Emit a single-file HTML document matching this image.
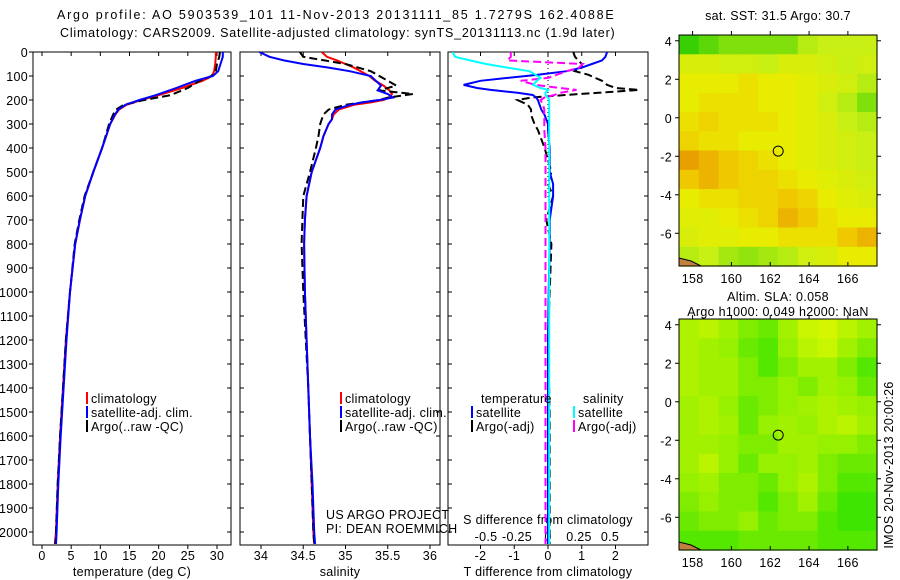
<!DOCTYPE html>
<html><head><meta charset="utf-8"><style>
body{margin:0;background:#fff;}
svg{display:block;font-family:"Liberation Sans",sans-serif;font-size:12.5px;letter-spacing:0.3px;}
</style></head><body>
<svg id="fig" width="900" height="580">
<defs>
<clipPath id="c1"><rect x="33" y="52" width="198" height="493"/></clipPath>
<clipPath id="c2"><rect x="240" y="52" width="200" height="493"/></clipPath>
<clipPath id="c3"><rect x="448" y="52" width="200" height="493"/></clipPath>
</defs>
<text x="57" y="19" textLength="557" lengthAdjust="spacing">Argo profile: AO 5903539_101 11-Nov-2013 20131111_85 1.7279S 162.4088E</text>
<text x="60" y="37" textLength="555" lengthAdjust="spacing">Climatology: CARS2009. Satellite-adjusted climatology: synTS_20131113.nc (1.9d later)</text>
<text x="778" y="20" text-anchor="middle">sat. SST: 31.5 Argo: 30.7</text>
<text x="778" y="301" text-anchor="middle">Altim. SLA: 0.058</text>
<text x="778" y="316" text-anchor="middle">Argo h1000: 0.049 h2000: NaN</text>
<text transform="translate(893,465) rotate(-90)" text-anchor="middle">IMOS 20-Nov-2013 20:00:26</text>
<g id="g"></g>
</svg>
<script>
// ---- profile data ----
const tDepth=[0,20,50,80,100,120,150,180,200,220,240,260,300,400,500,600,700,800,1000,1200,1400,1600,1800,2000,2050];
const tClim=[29.8,29.8,29.7,29.5,29.2,27.5,24,20,17,14.5,13.2,12.6,11.7,10.3,8.8,7.4,6.5,5.7,4.8,4.1,3.6,3.1,2.7,2.4,2.2];
const tSat=[31,31,30.6,30.2,29.3,26.3,23,19.5,16.7,14.3,13.1,12.5,11.7,10.3,8.8,7.4,6.5,5.7,4.8,4.2,3.7,3.2,2.8,2.5,2.4];
const tArgo=[30.5,30.4,30,29.8,29.0,27,25,22,17.5,14,12.7,12.2,11.5,10.3,8.8,7.3,6.4,5.6,4.8,4.1,3.6,3.1,2.7,2.4,2.3];
const sDepth=[0,20,35,50,65,80,100,120,140,160,175,190,200,210,220,240,260,280,300,350,400,500,600,700,800,1000,1200,1400,1600,1800,2000,2050];
const sClim=[34.72,34.78,34.9,35.0,35.1,35.18,35.28,35.35,35.45,35.52,35.55,35.52,35.45,35.3,35.1,34.92,34.86,34.84,34.8,34.74,34.7,34.6,34.54,34.52,34.51,34.52,34.54,34.56,34.58,34.6,34.62,34.63];
const sSat=[33.98,34.1,34.27,34.5,34.8,35.05,35.3,35.36,35.42,35.38,35.5,35.56,35.4,35.2,35.05,34.88,34.84,34.84,34.8,34.74,34.7,34.6,34.54,34.52,34.51,34.52,34.54,34.56,34.58,34.61,34.63,34.64];
const sArgo=[34.46,34.5,34.75,35.0,35.15,35.3,35.4,35.5,35.6,35.4,35.8,35.5,35.4,35.2,35.0,34.8,34.74,34.72,34.7,34.68,34.65,34.58,34.5,34.49,34.48,34.5,34.53,34.56,34.58,34.6,34.62,34.63];
const dDepth=[0,20,35,50,65,80,95,108,120,137,150,158,170,179,190,200,220,240,262,300,325,400,500,550,600,700,800,1000,1200,1500,2000,2050];
const dTSat=[1.75,1.7,1.6,1.3,1.0,0.55,-0.3,-1.2,-2.0,-2.5,-2.1,-1.7,-0.9,-0.45,-0.35,-0.3,-0.25,-0.2,-0.1,0,0,0.05,0.05,0.15,0.15,0.05,0.05,0.02,0,0,0,0];
const dTArgo=[0.75,0.8,0.9,1.0,1.0,0.8,1.2,1.4,1.6,1.75,2.0,2.7,1.5,0.5,-0.5,-0.9,-0.6,-0.5,-0.5,-0.4,-0.3,-0.1,0.1,0,0.15,-0.05,0.1,0.05,0,0.05,0.05,0.05];
const dSSat=[-0.77,-0.75,-0.63,-0.5,-0.33,-0.15,-0.1,-0.06,-0.09,-0.12,-0.06,0,-0.02,-0.02,0,0.01,0.01,0.01,0.01,0.01,0.01,0.01,0.01,0.01,0.01,0.01,0.01,0.01,0.01,0.01,0.01,0.01];
const dSArgo=[-0.3,-0.3,-0.33,0.28,0.25,0.15,0.07,0.0,-0.22,-0.1,0.1,0.23,0.1,0.05,-0.03,-0.06,-0.04,-0.03,-0.03,-0.03,-0.03,-0.02,-0.02,-0.02,-0.02,-0.02,-0.02,-0.02,-0.02,-0.02,-0.02,-0.02];
const depthTicks=[0,100,200,300,400,500,600,700,800,900,1000,1100,1200,1300,1400,1500,1600,1700,1800,1900,2000];
const tTicks=[0,5,10,15,20,25,30];
const sTicks=[34,34.5,35,35.5,36];
const sTickLabels=["34","34.5","35","35.5","36"];
const dTTicks=[-2,-1,0,1,2];
const dSTicks=[-0.5,-0.25,0,0.25,0.5];
const dSTickLabels=["-0.5","-0.25","0","0.25","0.5"];
// ---- map data (coarse grids, rows from north to south) ----
const lonTicks=[158,160,162,164,166];
const latTicks=[4,2,0,-2,-4,-6];
const sstGrid=[
[0.1,0.2,0.3,0.3,0.3,0.3,0.45,0.5,0.5,0.5],
[0.6,0.6,0.55,0.55,0.5,0.6,0.6,0.55,0.5,0.55],
[0.7,0.7,0.7,0.75,0.7,0.7,0.65,0.6,0.55,0.45],
[0.7,0.75,0.75,0.75,0.7,0.7,0.65,0.55,0.45,0.3],
[0.75,0.8,0.75,0.75,0.75,0.7,0.65,0.6,0.5,0.45],
[0.8,0.75,0.75,0.7,0.7,0.7,0.65,0.6,0.55,0.5],
[0.95,0.9,0.85,0.8,0.75,0.7,0.65,0.6,0.55,0.5],
[0.85,0.9,0.85,0.8,0.8,0.75,0.7,0.65,0.6,0.55],
[0.7,0.75,0.75,0.8,0.8,0.85,0.8,0.7,0.65,0.6],
[0.65,0.65,0.7,0.75,0.8,0.9,0.85,0.75,0.7,0.7],
[0.6,0.65,0.65,0.7,0.7,0.75,0.75,0.75,0.85,0.9],
[0.45,0.5,0.4,0.35,0.4,0.45,0.55,0.6,0.7,0.7]];
const slaGrid=[
[0.7,0.8,0.6,0.4,0.3,0.6,0.9,1.0,0.8,0.6],
[0.7,0.6,0.5,0.3,0.2,0.5,0.8,0.9,0.6,0.4],
[0.7,0.6,0.6,0.4,0.2,0.4,0.6,0.6,0.4,0.2],
[0.7,0.6,0.6,0.4,0.4,0.5,0.4,0.6,0.5,0.3],
[0.6,0.7,0.5,0.3,0.4,0.5,0.6,0.7,0.6,0.5],
[0.6,0.7,0.6,0.3,0.5,0.6,0.5,0.7,0.8,0.6],
[0.6,0.6,0.5,0.4,0.4,0.6,0.6,0.5,0.5,0.4],
[0.6,0.8,0.5,0.3,0.5,0.5,0.6,0.4,0.3,0.3],
[0.5,0.6,0.4,0.4,0.3,0.5,0.7,0.4,0.2,0.2],
[0.4,0.5,0.4,0.4,0.2,0.4,0.6,0.3,0.1,0.1],
[0.3,0.4,0.4,0.5,0.3,0.4,0.4,0.2,0.1,0.1],
[0.2,0.2,0.2,0.3,0.3,0.3,0.3,0.2,0.2,0.2]];
const argoLon=162.41, argoLat=-1.73;

const NS="http://www.w3.org/2000/svg";
const G=document.getElementById('g');
function mk(tag,attrs,parent){const e=document.createElementNS(NS,tag);for(const k in attrs)e.setAttribute(k,attrs[k]);(parent||G).appendChild(e);return e;}
function txt(x,y,s,anchor,name){const t=mk('text',{x:x,y:y,'text-anchor':anchor||'start'});t.textContent=s;


return t;}
const Y=d=>52+d*0.24;
const xT=v=>42+v*5.833;
const xS=v=>261+(v-34)*84.5;
const xDT=v=>548+v*33.75;
const xDS=v=>548+v*124;

function line(xs,ds,fx,color,dash,clip,name){
  const pts=xs.map((v,i)=>fx(v).toFixed(1)+','+Y(ds[i]).toFixed(1)).join(' ');
  const p=mk('polyline',{points:pts,fill:'none',stroke:color,'stroke-width':2,'clip-path':'url(#'+clip+')'});
  if(dash)p.setAttribute('stroke-dasharray',dash);
  
  
}
function frame(x,w,name){const r=mk('rect',{x:x,y:52,width:w,height:493,fill:'none',stroke:'#000','stroke-width':1});

}

frame(33,198,'temperature-panel');frame(240,200,'salinity-panel');frame(448,200,'difference-panel');
depthTicks.forEach(d=>{
  mk('line',{x1:29,x2:33,y1:Y(d),y2:Y(d),stroke:'#000'});
  [231,240,440,448,648].forEach((x,i)=>mk('line',{x1:x,x2:x+((i%2==0)?-4:4),y1:Y(d),y2:Y(d),stroke:'#000'}));
  txt(28,Y(d)+5,String(d),'end','depth-tick-label');
});
tTicks.forEach(v=>{mk('line',{x1:xT(v),x2:xT(v),y1:545,y2:549,stroke:'#000'});mk('line',{x1:xT(v),x2:xT(v),y1:52,y2:56,stroke:'#000'});txt(xT(v),560,String(v),'middle','temperature-tick-label');});
sTicks.forEach((v,i)=>{mk('line',{x1:xS(v),x2:xS(v),y1:545,y2:549,stroke:'#000'});mk('line',{x1:xS(v),x2:xS(v),y1:52,y2:56,stroke:'#000'});txt(xS(v),560,sTickLabels[i],'middle','salinity-tick-label');});
dTTicks.forEach(v=>{mk('line',{x1:xDT(v),x2:xDT(v),y1:545,y2:549,stroke:'#000'});mk('line',{x1:xDT(v),x2:xDT(v),y1:52,y2:56,stroke:'#000'});txt(xDT(v),560,String(v),'middle','t-diff-tick-label');});
dSTicks.forEach((v,i)=>txt(xDS(v),541,dSTickLabels[i],'middle','s-diff-tick-label'));
txt(132,576,'temperature (deg C)','middle','temperature-axis-title');
txt(340,576,'salinity','middle','salinity-axis-title');
txt(548,576,'T difference from climatology','middle','t-diff-axis-title');
txt(548,524,'S difference from climatology','middle','s-diff-axis-title');
mk('line',{x1:548,x2:548,y1:52,y2:200,stroke:'#000','stroke-dasharray':'1,3'});

line(tClim,tDepth,xT,'#ff0000',null,'c1','temp-climatology-line');
line(tArgo,tDepth,xT,'#000',"8,4",'c1','temp-argo-line');
line(tSat,tDepth,xT,'#0000ff',null,'c1','temp-satellite-line');
line(sClim,sDepth,xS,'#ff0000',null,'c2','sal-climatology-line');
line(sArgo,sDepth,xS,'#000',"8,4",'c2','sal-argo-line');
line(sSat,sDepth,xS,'#0000ff',null,'c2','sal-satellite-line');
line(dTArgo,dDepth,xDT,'#000',"8,4",'c3','t-diff-argo-line');
line(dTSat,dDepth,xDT,'#0000ff',null,'c3','t-diff-satellite-line');
line(dSArgo,dDepth,xDS,'#ff00ff',"8,4",'c3','s-diff-argo-line');
line(dSSat,dDepth,xDS,'#00ffff',null,'c3','s-diff-satellite-line');

function leg(x,y,color,label,name){mk('rect',{x:x,y:y-11,width:2,height:12,fill:color});txt(x+5,y,label,'start',name);}
leg(86,403,'#ff0000','climatology','legend-climatology');
leg(86,417,'#0000ff','satellite-adj. clim.','legend-satellite-adj');
leg(86,431,'#000','Argo(..raw -QC)','legend-argo');
leg(340,403,'#ff0000','climatology','legend2-climatology');
leg(340,417,'#0000ff','satellite-adj. clim.','legend2-satellite-adj');
leg(340,431,'#000','Argo(..raw -QC)','legend2-argo');
txt(481,403,'temperature','start','legend-temperature-header');
txt(583,403,'salinity','start','legend-salinity-header');
leg(471,417,'#0000ff','satellite','legend-t-satellite');
leg(471,431,'#000','Argo(-adj)','legend-t-argo');
leg(573,417,'#00ffff','satellite','legend-s-satellite');
leg(573,431,'#ff00ff','Argo(-adj)','legend-s-argo');
txt(326,519,'US ARGO PROJECT','start','project-label');
txt(326,533,'PI: DEAN ROEMMICH','start','pi-label');

function lerp(a,b,t){return a.map((v,i)=>Math.round(v+(b[i]-v)*t));}
function ramp(stops,v){for(let i=1;i<stops.length;i++){if(v<=stops[i][0]){const t=(v-stops[i-1][0])/(stops[i][0]-stops[i-1][0]);return 'rgb('+lerp(stops[i-1][1],stops[i][1],t).join(',')+')';}}return 'rgb('+stops[stops.length-1][1].join(',')+')';}
const sstStops=[[0,[20,200,0]],[0.5,[200,240,20]],[0.7,[232,236,0]],[0.85,[240,200,0]],[1,[228,140,0]]];
const slaStops=[[0,[40,226,0]],[0.5,[150,240,0]],[1,[212,246,0]]];
function map(y0,grid,stops,name){
  const x0=679,w=198,h=231,L0=157.3,L1=167.5,B0=4.3,B1=-7.7;
  const mx=lon=>x0+(lon-L0)/(L1-L0)*w, my=lat=>y0+(B0-lat)/(B0-B1)*h;
  const g=mk('g',{});
  
  
  const rows=grid.length,cols=grid[0].length,cw=w/cols,ch=h/rows;
  grid.forEach((row,r)=>row.forEach((v,c)=>{
    const cell=mk('rect',{x:(x0+c*cw).toFixed(1),y:(y0+r*ch).toFixed(1),width:(cw+0.6).toFixed(1),height:(ch+0.6).toFixed(1),fill:ramp(stops,v)},g);
    
    
  }));
  mk('rect',{x:x0,y:y0,width:w,height:h,fill:'none',stroke:'#000'});
  lonTicks.forEach(l=>{mk('line',{x1:mx(l),x2:mx(l),y1:y0+h,y2:y0+h-4,stroke:'#000'});mk('line',{x1:mx(l),x2:mx(l),y1:y0,y2:y0-4,stroke:'#000'});txt(mx(l),y0+h+17,String(l),'middle','lon-tick-label');});
  latTicks.forEach(l=>{mk('line',{x1:x0-4,x2:x0,y1:my(l),y2:my(l),stroke:'#000'});mk('line',{x1:x0+w,x2:x0+w+4,y1:my(l),y2:my(l),stroke:'#000'});txt(x0-7,my(l)+5,String(l),'end','lat-tick-label');});
  const m=mk('circle',{cx:mx(argoLon),cy:my(argoLat),r:5,fill:'none',stroke:'#000'});
  
  
  mk('path',{d:`M${x0} ${y0+h-8} l12 3 l10 5 L${x0} ${y0+h} Z`,fill:'#c08040',stroke:'#000'});
}
map(35,sstGrid,sstStops,'sst-map');
map(319,slaGrid,slaStops,'sla-map');
</script>
</body></html>
